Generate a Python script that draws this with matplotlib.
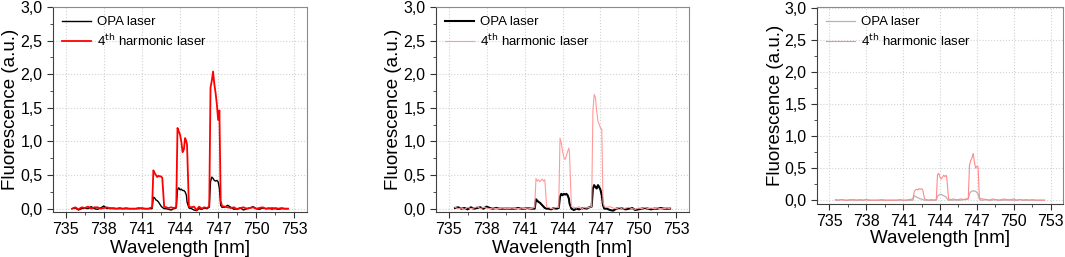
import numpy as np
import matplotlib
matplotlib.use("Agg")
import matplotlib.pyplot as plt
from matplotlib.ticker import MultipleLocator, FuncFormatter

plt.rcParams['font.family'] = ['Liberation Sans', 'DejaVu Sans']

# wavelength sampling (nm), shared by all spectra
wl = [735.5, 735.75, 736.0, 736.25, 736.5, 736.75, 737.0, 737.25, 737.5, 737.75,
      738.0, 738.25, 738.5, 738.75, 739.0, 739.25, 739.5, 739.75, 740.0, 740.25,
      740.5, 740.75, 741.0, 741.25, 741.5,
      741.8, 741.9, 742.0, 742.1, 742.2, 742.3, 742.4, 742.5, 742.6, 742.75,
      742.9, 743.1, 743.3, 743.5, 743.7, 743.8, 743.9, 744.0, 744.1, 744.2,
      744.3, 744.4, 744.5, 744.55, 744.7,
      744.9, 745.1, 745.3, 745.5, 745.7, 745.9, 746.1, 746.3, 746.4, 746.5,
      746.6, 746.7, 746.8, 746.9, 747.0, 747.1, 747.2, 747.3,
      747.5, 747.75, 748.0, 748.25, 748.5, 748.75, 749.0, 749.25, 749.5, 749.75,
      750.0, 750.25, 750.5, 750.75, 751.0, 751.25, 751.5, 751.75, 752.0, 752.25, 752.5]

# panel (a)
opa_a = [0.0, 0.01, -0.02, 0.0, 0.01, 0.0, 0.03, 0.0, -0.01, 0.01,
         0.04, 0.0, 0.01, 0.0, 0.0, 0.01, 0.0, 0.0, 0.0, 0.0,
         0.0, 0.01, 0.0, 0.0, 0.0,
         0.0, 0.17, 0.16, 0.13, 0.12, 0.10, 0.07, 0.04, 0.02, 0.0,
         0.0, -0.01, -0.02, 0.0, 0.01, 0.28, 0.31, 0.28, 0.29, 0.27,
         0.27, 0.25, 0.20, 0.10, 0.01,
         0.0, -0.02, -0.03, 0.0, -0.01, 0.01, 0.0, 0.02, 0.40, 0.47,
         0.45, 0.42, 0.41, 0.42, 0.40, 0.30, 0.05, 0.02,
         0.02, 0.05, 0.02, -0.01, 0.0, 0.01, -0.02, 0.0, 0.01, 0.03,
         0.0, -0.01, 0.01, 0.0, 0.0, 0.01, 0.0, -0.01, 0.0, 0.0, 0.0]
fourth_a = [0.0, 0.02, -0.01, 0.02, 0.01, 0.03, 0.0, 0.02, 0.02, 0.0,
            0.01, 0.02, 0.0, 0.01, 0.0, 0.0, 0.0, 0.01, 0.0, 0.0,
            0.0, 0.0, 0.01, 0.0, 0.0,
            0.02, 0.57, 0.53, 0.50, 0.47, 0.49, 0.48, 0.48, 0.46, 0.03,
            0.02, 0.01, 0.02, 0.01, 0.02, 1.20, 1.15, 1.10, 1.00, 0.84,
            0.88, 1.05, 1.00, 0.95, 0.03,
            0.02, 0.03, -0.02, 0.03, 0.0, 0.02, 0.01, 0.03, 1.80, 1.90,
            2.04, 1.85, 1.72, 1.55, 1.32, 1.46, 0.12, 0.04,
            0.03, 0.02, 0.01, 0.02, -0.01, 0.01, 0.02, 0.0, 0.01, 0.02,
            0.0, 0.01, 0.02, 0.0, 0.01, -0.01, 0.01, 0.0, 0.01, 0.0, 0.0]

# panel (b)
opa_b = [0.01, 0.02, 0.0, 0.01, -0.01, 0.02, 0.0, 0.01, 0.02, 0.0,
         0.03, 0.01, 0.0, 0.01, 0.0, 0.0, 0.0, 0.0, 0.0, 0.0,
         0.01, 0.0, 0.0, 0.01, 0.0,
         0.0, 0.14, 0.12, 0.10, 0.09, 0.07, 0.05, 0.03, 0.01, 0.0,
         0.0, -0.01, 0.01, 0.0, 0.01, 0.18, 0.22, 0.20, 0.22, 0.21,
         0.22, 0.20, 0.15, 0.08, 0.0,
         -0.02, 0.0, -0.01, 0.0, 0.01, 0.0, 0.02, 0.03, 0.30, 0.35,
         0.32, 0.30, 0.35, 0.32, 0.28, 0.20, 0.05, 0.0,
         0.0, -0.02, -0.03, 0.0, 0.01, 0.0, -0.01, 0.0, 0.01, -0.02,
         -0.01, 0.0, 0.01, 0.0, -0.01, 0.0, 0.0, 0.01, 0.0, 0.0, 0.0]
fourth_b = [0.02, 0.0, 0.01, -0.01, 0.02, 0.0, 0.01, 0.03, 0.0, 0.02,
            0.01, 0.0, 0.01, 0.0, 0.0, 0.01, 0.0, 0.0, 0.01, 0.0,
            0.0, 0.01, 0.0, 0.01, 0.0,
            0.02, 0.45, 0.41, 0.43, 0.40, 0.42, 0.44, 0.41, 0.43, 0.02,
            0.02, 0.0, 0.01, 0.02, 0.02, 1.05, 0.98, 0.85, 0.77, 0.73,
            0.78, 0.85, 0.90, 0.82, 0.03,
            0.02, 0.01, 0.03, -0.01, 0.02, 0.01, 0.02, 0.03, 1.45, 1.70,
            1.65, 1.45, 1.30, 1.25, 1.20, 1.18, 0.10, 0.03,
            0.02, 0.03, 0.01, 0.0, 0.02, -0.01, 0.01, 0.02, 0.0, -0.01,
            0.01, 0.0, 0.02, 0.0, 0.01, 0.0, 0.01, 0.0, 0.0, 0.01, 0.0]

# panel (c)
opa_c = [0.0, 0.0, 0.01, 0.0, 0.0, 0.0, 0.01, 0.0, 0.0, 0.0,
         0.01, 0.0, 0.0, 0.0, 0.0, 0.0, 0.0, 0.0, 0.0, 0.0,
         0.0, 0.0, 0.0, 0.0, 0.0,
         0.0, 0.07, 0.06, 0.05, 0.04, 0.03, 0.02, 0.02, 0.01, 0.0,
         0.0, 0.0, 0.0, 0.0, 0.0, 0.06, 0.08, 0.09, 0.09, 0.08,
         0.07, 0.06, 0.05, 0.03, 0.0,
         0.0, 0.0, 0.01, 0.0, 0.0, 0.01, 0.01, 0.02, 0.10, 0.13,
         0.14, 0.15, 0.14, 0.14, 0.12, 0.10, 0.02, 0.0,
         0.0, 0.01, 0.0, 0.0, 0.01, 0.0, 0.0, 0.0, 0.01, 0.0,
         0.0, 0.0, 0.01, 0.0, 0.0, 0.0, 0.0, 0.0, 0.0, 0.0, 0.0]
fourth_c = [0.01, 0.0, 0.01, 0.0, 0.0, 0.01, 0.0, 0.0, 0.01, 0.0,
            0.01, 0.0, 0.0, 0.0, 0.0, 0.01, 0.0, 0.0, 0.0, 0.0,
            0.0, 0.01, 0.0, 0.0, 0.01,
            0.02, 0.13, 0.16, 0.17, 0.16, 0.18, 0.17, 0.18, 0.16, 0.02,
            0.01, 0.0, 0.01, 0.0, 0.01, 0.40, 0.42, 0.36, 0.33, 0.36,
            0.39, 0.37, 0.39, 0.36, 0.02,
            0.01, 0.02, 0.0, 0.01, 0.02, 0.01, 0.02, 0.02, 0.55, 0.62,
            0.66, 0.73, 0.60, 0.50, 0.53, 0.52, 0.05, 0.02,
            0.02, 0.01, 0.0, 0.02, 0.01, 0.0, 0.01, 0.02, 0.0, 0.01,
            0.02, 0.0, 0.01, 0.0, 0.01, 0.0, 0.01, 0.0, 0.0, 0.0, 0.0]

xticks = [735, 738, 741, 744, 747, 750, 753]

fig = plt.figure(figsize=(10.65, 2.57), dpi=100)

panels = [
    # axes rect, opa data, 4th data, opa style, 4th style, ylim, xlabel y
    ([0.0498, 0.175, 0.2385, 0.798], opa_a, fourth_a,
     dict(color='black', lw=1.0), dict(color='#ff0000', lw=1.3), (-0.05, 3.0), -0.176),
    ([0.4094, 0.175, 0.2376, 0.798], opa_b, fourth_b,
     dict(color='black', lw=1.5), dict(color='#ff9a9a', lw=0.8), (-0.05, 3.0), -0.176),
    ([0.7671, 0.206, 0.2310, 0.767], opa_c, fourth_c,
     dict(color='#b4b4b4', lw=0.9), dict(color='#ff8a8a', lw=0.8), (-0.06, 3.02), -0.173),
]

comma = FuncFormatter(lambda v, p: f"{v:.1f}".replace('.', ','))

for rect, opa, fourth, s_opa, s_4th, ylim, xl_y in panels:
    ax = fig.add_axes(rect)
    ax.plot(wl, opa, label='OPA laser', **s_opa)
    ax.plot(wl, fourth, label='4$^{\\mathrm{th}}$ harmonic laser', **s_4th)
    ax.set_xlim(734, 754)
    ax.set_ylim(*ylim)
    ax.set_xticks(xticks)
    ax.xaxis.set_minor_locator(MultipleLocator(1.5))
    ax.yaxis.set_major_locator(MultipleLocator(0.5))
    ax.yaxis.set_minor_locator(MultipleLocator(0.25))
    ax.yaxis.set_major_formatter(comma)
    ax.grid(True, which='major', color='#d2d2d2', linestyle=':', linewidth=0.8)
    ax.tick_params(which='major', direction='out', length=4, width=0.8,
                   labelsize=11.5, colors='#333333', labelcolor='black', pad=3.5)
    ax.tick_params(which='minor', direction='out', length=2, width=0.6, colors='#333333')
    for side in ['left', 'bottom']:
        ax.spines[side].set_color('#404040')
    for side in ['top', 'right']:
        ax.spines[side].set_color('#8a8a8a')
    ax.set_xlabel('Wavelength [nm]', fontsize=13.5, va='center')
    ax.set_ylabel('Fluorescence (a.u.)', fontsize=13.5, va='center')
    ax.xaxis.set_label_coords(0.5, xl_y)
    ax.yaxis.set_label_coords(-0.168, 0.5)
    ax.legend(loc='upper left', frameon=False, fontsize=9.5, handlelength=2.2,
              handletextpad=0.4, borderaxespad=0.3, labelspacing=0.35)

fig.savefig('out.png', dpi=100)
